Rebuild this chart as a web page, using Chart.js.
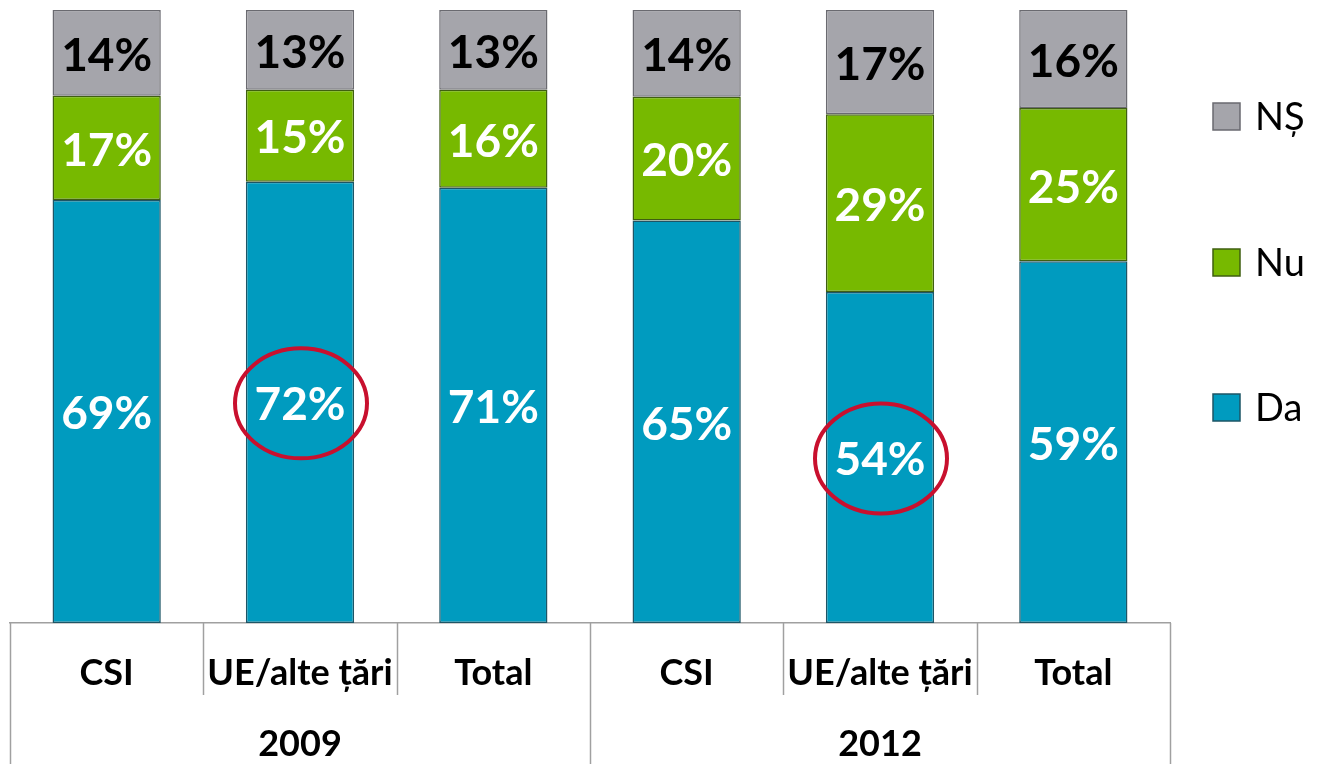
<!DOCTYPE html>
<html>
<head>
<meta charset="utf-8">
<script src="https://cdn.jsdelivr.net/npm/chart.js@4"></script>
<style>
  html, body { margin: 0; padding: 0; background: #fff; }
  #wrap { width: 1323px; height: 764px; }
</style>
</head>
<body>
<div id="wrap"><canvas id="myChart"></canvas></div>
<script>
// categories and groups
var categories = ['CSI', 'UE/alte țări', 'Total', 'CSI', 'UE/alte țări', 'Total'];
var groups = ['2009', '2012'];
var groupSize = 3;

// series (percent, as labelled)
var da = [69, 72, 71, 65, 54, 59];
var nu = [17, 15, 16, 20, 29, 25];
var ns = [14, 13, 13, 14, 17, 16];

// Da values circled in red
var circled = [1, 4];

var FONT = 'Lato, "Open Sans", sans-serif';

// 100% stacked: each column is scaled to its own total
function share(arr) {
  return arr.map(function (v, i) {
    return v / (da[i] + nu[i] + ns[i]) * 100;
  });
}

// labels inside each bar segment
var barLabels = {
  id: 'barLabels',
  afterDatasetsDraw: function (chart) {
    var ctx = chart.ctx;
    ctx.save();
    ctx.font = 'bold 46px ' + FONT;
    ctx.textAlign = 'center';
    ctx.textBaseline = 'middle';
    chart.data.datasets.forEach(function (ds, di) {
      var meta = chart.getDatasetMeta(di);
      meta.data.forEach(function (el, i) {
        var cy = (el.y + el.base) / 2 + 3;
        ctx.fillStyle = ds.labelColor;
        ctx.fillText(ds.raw[i] + '%', el.x, cy);
        if (di === 0 && circled.indexOf(i) >= 0) {
          ctx.beginPath();
          ctx.strokeStyle = '#c8102e';
          ctx.lineWidth = 4;
          ctx.ellipse(el.x + 1, cy - 2, 66, 55, 0, 0, Math.PI * 2);
          ctx.stroke();
        }
      });
    });
    ctx.restore();
  }
};

// two-level category axis: separators and year labels
var groupAxis = {
  id: 'groupAxis',
  afterDraw: function (chart) {
    var ctx = chart.ctx;
    var x = chart.scales.x;
    var top = chart.chartArea.bottom;
    var step = x.getPixelForValue(1) - x.getPixelForValue(0);
    ctx.save();
    ctx.strokeStyle = '#a0a0a0';
    ctx.lineWidth = 1.5;
    for (var i = 0; i <= categories.length; i++) {
      var px = Math.round(x.getPixelForValue(0) - step / 2 + i * step) + 0.5;
      var len = (i % groupSize === 0) ? chart.height - top : 72;
      ctx.beginPath();
      ctx.moveTo(px, top);
      ctx.lineTo(px, top + len);
      ctx.stroke();
    }
    ctx.fillStyle = '#000';
    ctx.font = 'bold 36px ' + FONT;
    ctx.textAlign = 'center';
    ctx.textBaseline = 'middle';
    groups.forEach(function (g, gi) {
      var cx = (x.getPixelForValue(gi * groupSize) + x.getPixelForValue(gi * groupSize + groupSize - 1)) / 2;
      ctx.fillText(g, cx, top + 121);
    });
    ctx.restore();
  }
};

// legend on the right, top entry first
var sideLegend = {
  id: 'sideLegend',
  afterDraw: function (chart) {
    var ctx = chart.ctx;
    var rows = [[2, 116], [1, 262], [0, 407]];
    ctx.save();
    ctx.font = '38px ' + FONT;
    ctx.textBaseline = 'middle';
    ctx.textAlign = 'left';
    rows.forEach(function (r) {
      var ds = chart.data.datasets[r[0]];
      ctx.fillStyle = ds.backgroundColor;
      ctx.fillRect(1213, r[1] - 13, 27, 27);
      ctx.strokeStyle = ds.legendBorder;
      ctx.lineWidth = 1.5;
      ctx.strokeRect(1213, r[1] - 13, 27, 27);
      ctx.fillStyle = '#000';
      ctx.fillText(ds.label, 1255, r[1] + 2);
    });
    ctx.restore();
  }
};

new Chart(document.getElementById('myChart'), {
  type: 'bar',
  data: {
    labels: categories,
    datasets: [
      { label: 'Da', raw: da, data: share(da), backgroundColor: '#009bbf', borderColor: '#1d5566', legendBorder: '#1d5566', labelColor: '#fff', borderWidth: 1.5 },
      { label: 'Nu', raw: nu, data: share(nu), backgroundColor: '#77b900', borderColor: '#3f5f10', legendBorder: '#3f5f10', labelColor: '#fff', borderWidth: 1.5 },
      { label: 'NȘ', raw: ns, data: share(ns), backgroundColor: '#a5a5ab', borderColor: '#6a6a70', legendBorder: '#6a6a70', labelColor: '#000', borderWidth: 1.5 }
    ]
  },
  options: {
    responsive: true,
    maintainAspectRatio: false,
    animation: false,
    layout: { padding: { left: 10, top: 10, right: 153, bottom: 0 } },
    datasets: { bar: { categoryPercentage: 1, barPercentage: 0.56, borderSkipped: false } },
    scales: {
      x: {
        stacked: true,
        grid: { display: false },
        border: { display: true, color: '#a0a0a0', width: 1.5 },
        ticks: { color: '#000', font: { family: FONT, size: 36, weight: 'bold' }, padding: 21, maxRotation: 0, autoSkip: false },
        afterFit: function (scale) { scale.height = 141; }
      },
      y: {
        stacked: true,
        display: false,
        min: 0,
        max: 100
      }
    },
    plugins: {
      legend: { display: false },
      tooltip: { enabled: false }
    }
  },
  plugins: [barLabels, groupAxis, sideLegend]
});
</script>
</body>
</html>
